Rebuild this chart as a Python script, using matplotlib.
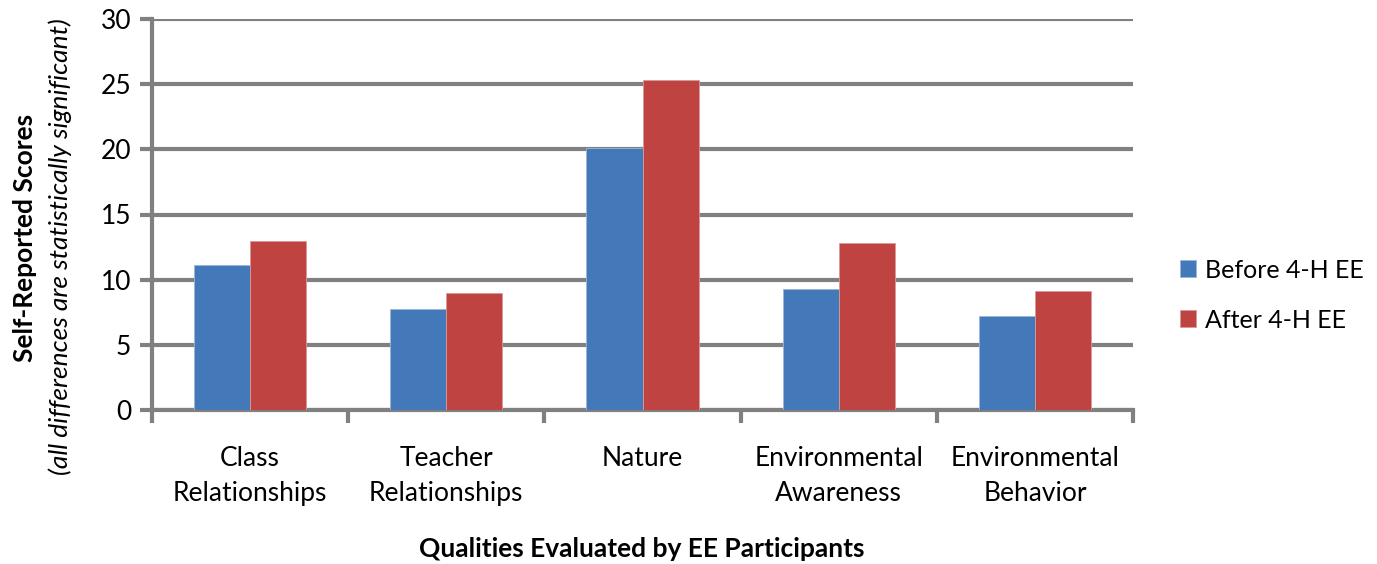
import matplotlib

matplotlib.use("Agg")
import matplotlib.pyplot as plt
import numpy as np

categories = [
    "Class\nRelationships",
    "Teacher\nRelationships",
    "Nature",
    "Environmental\nAwareness",
    "Environmental\nBehavior",
]
before = [11.1, 7.75, 20.1, 9.3, 7.25]
after = [13.0, 8.95, 25.3, 12.8, 9.1]
series_names = ["Before 4-H EE", "After 4-H EE"]
yticks = [0, 5, 10, 15, 20, 25, 30]

BLUE = "#4479B9"
RED = "#BE4341"
GRID = "#808080"
FONT = "Lato"
FS = 19

plt.rcParams["font.family"] = [FONT, "DejaVu Sans"]

fig = plt.figure(figsize=(13.77, 5.64), dpi=100)
ax = fig.add_axes([152 / 1377, 1 - 410 / 564, (1133 - 152) / 1377, (410 - 19) / 564])

x = np.arange(len(categories))
width = 1 / 3.5
ax.bar(x - width / 2, before, width, color=BLUE, edgecolor="#9db5d8", linewidth=0.6,
       label=series_names[0], zorder=3)
ax.bar(x + width / 2, after, width, color=RED, edgecolor="#d89a99", linewidth=0.6,
       label=series_names[1], zorder=3)

ax.set_xlim(-0.5, len(categories) - 0.5)
ax.set_ylim(0, 30)
ax.set_yticks(yticks)
ax.yaxis.grid(True, color=GRID, linewidth=3, zorder=0)
ax.set_axisbelow(True)

for side in ("top", "right"):
    ax.spines[side].set_visible(False)
for side in ("left", "bottom"):
    ax.spines[side].set_color(GRID)
    ax.spines[side].set_linewidth(3)

ax.tick_params(axis="y", length=9, width=3, color=GRID, labelsize=FS, pad=6)
ax.set_xticks(np.arange(len(categories) + 1) - 0.5)
ax.set_xticklabels([])
ax.tick_params(axis="x", length=9, width=3, color=GRID)
for i, label in enumerate(categories):
    ax.text(i, -2.8, label, ha="center", va="top", fontsize=FS, linespacing=1.5,
            transform=ax.transData)

fig.text(25 / 1377, 1 - 238 / 564, "Self-Reported Scores", rotation=90, ha="center",
         va="center", fontsize=FS, fontweight="bold")
fig.text(60 / 1377, 1 - 247 / 564, "(all differences are statistically significant)",
         rotation=90, ha="center", va="center", fontsize=FS, style="italic")
fig.text(642 / 1377, 1 - 549 / 564, "Qualities Evaluated by EE Participants",
         ha="center", va="center", fontsize=FS, fontweight="bold")

fig.legend(loc="center left", bbox_to_anchor=(1180 / 1377, 1 - 295 / 564), frameon=False,
           fontsize=18, borderpad=0, borderaxespad=0, handlelength=0.64,
           handleheight=0.64, handletextpad=0.36, labelspacing=1.08)

fig.savefig("out.png", dpi=100)
